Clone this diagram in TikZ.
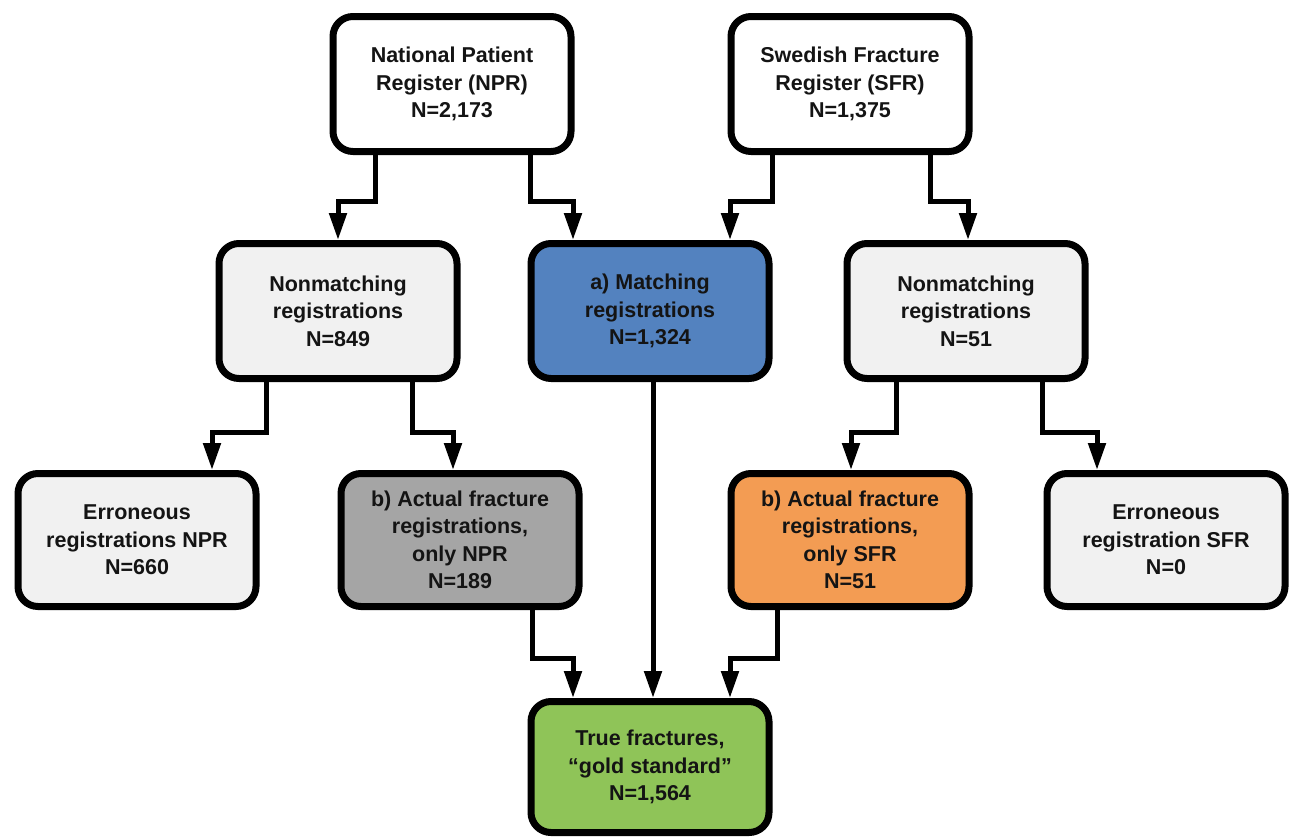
\documentclass[tikz,border=0pt]{standalone}
\usepackage{fontspec}
\setmainfont{Liberation Sans}
\usetikzlibrary{arrows.meta,calc}
\definecolor{lightfill}{HTML}{F1F1F1}
\definecolor{bluefill}{HTML}{5382BF}
\definecolor{grayfill}{HTML}{A5A5A5}
\definecolor{orangefill}{HTML}{F39C53}
\definecolor{greenfill}{HTML}{8FC458}
\definecolor{txt}{HTML}{141414}
\begin{document}
\begin{tikzpicture}[x=1pt,y=-1pt,
  box/.style={draw=black, line width=7pt, rounded corners=20pt,
    minimum width=238pt, minimum height=135pt, inner sep=0pt,
    align=center, text=txt,
    font=\bfseries\fontsize{21.5}{27.5}\selectfont},
  conn/.style={line width=5pt, draw=black,
    -{Triangle[length=27pt,width=17pt]}}]
\fill[white] (0,0) rectangle (1293,838);
\useasboundingbox (0,0) rectangle (1293,838);

\node[box, fill=white] (npr) at (452,84) {National Patient\\Register (NPR)\\N=2,173};
\node[box, fill=white] (sfr) at (850,84) {Swedish Fracture\\Register (SFR)\\N=1,375};

\node[box, fill=lightfill] (nml) at (338,311) {Nonmatching\\registrations\\N=849};
\node[box, fill=bluefill] (match) at (650,311) {a) Matching\\registrations\\N=1,324};
\node[box, fill=lightfill] (nmr) at (966,311) {Nonmatching\\registrations\\N=51};

\node[box, fill=lightfill, minimum height=133pt] (errn) at (137,540) {Erroneous\\registrations NPR\\N=660};
\node[box, fill=grayfill, minimum height=133pt] (actn) at (460,540) {b) Actual fracture\\registrations,\\only NPR\\N=189};
\node[box, fill=orangefill, minimum height=133pt] (acts) at (850,540) {b) Actual fracture\\registrations,\\only SFR\\N=51};
\node[box, fill=lightfill, minimum height=133pt] (errs) at (1166,540) {Erroneous\\registration SFR\\N=0};

\node[box, fill=greenfill, minimum height=131pt] (gold) at (650,767) {True fractures,\\“gold standard”\\N=1,564};

% row 1 -> row 2
\draw[conn] ($(npr.south)+(-77,0)$) -- ($(npr.south)+(-77,46)$) -| (nml.north);
\draw[conn] ($(npr.south)+(78,0)$) -- ($(npr.south)+(78,46)$) -| ($(match.north)+(-77,0)$);
\draw[conn] ($(sfr.south)+(-78,0)$) -- ($(sfr.south)+(-78,46)$) -| ($(match.north)+(80,0)$);
\draw[conn] ($(sfr.south)+(80,0)$) -- ($(sfr.south)+(80,46)$) -| ($(nmr.north)+(2,0)$);

% row 2 -> row 3
\draw[conn] ($(nml.south)+(-72,0)$) -- ($(nml.south)+(-72,50)$) -| ($(errn.north)+(75,0)$);
\draw[conn] ($(nml.south)+(74,0)$) -- ($(nml.south)+(74,50)$) -| ($(actn.north)+(-7,0)$);
\draw[conn] ($(nmr.south)+(-70,0)$) -- ($(nmr.south)+(-70,50)$) -| ($(acts.north)+(1,0)$);
\draw[conn] ($(nmr.south)+(76,0)$) -- ($(nmr.south)+(76,50)$) -| ($(errs.north)+(-69,0)$);

% row 3 -> gold
\draw[conn] ($(actn.south)+(72,0)$) -- ($(actn.south)+(72,48)$) -| ($(gold.north)+(-77,0)$);
\draw[conn] ($(match.south)+(3,0)$) -- ($(gold.north)+(3,0)$);
\draw[conn] ($(acts.south)+(-73,0)$) -- ($(acts.south)+(-73,48)$) -| ($(gold.north)+(80,0)$);
\end{tikzpicture}
\end{document}
